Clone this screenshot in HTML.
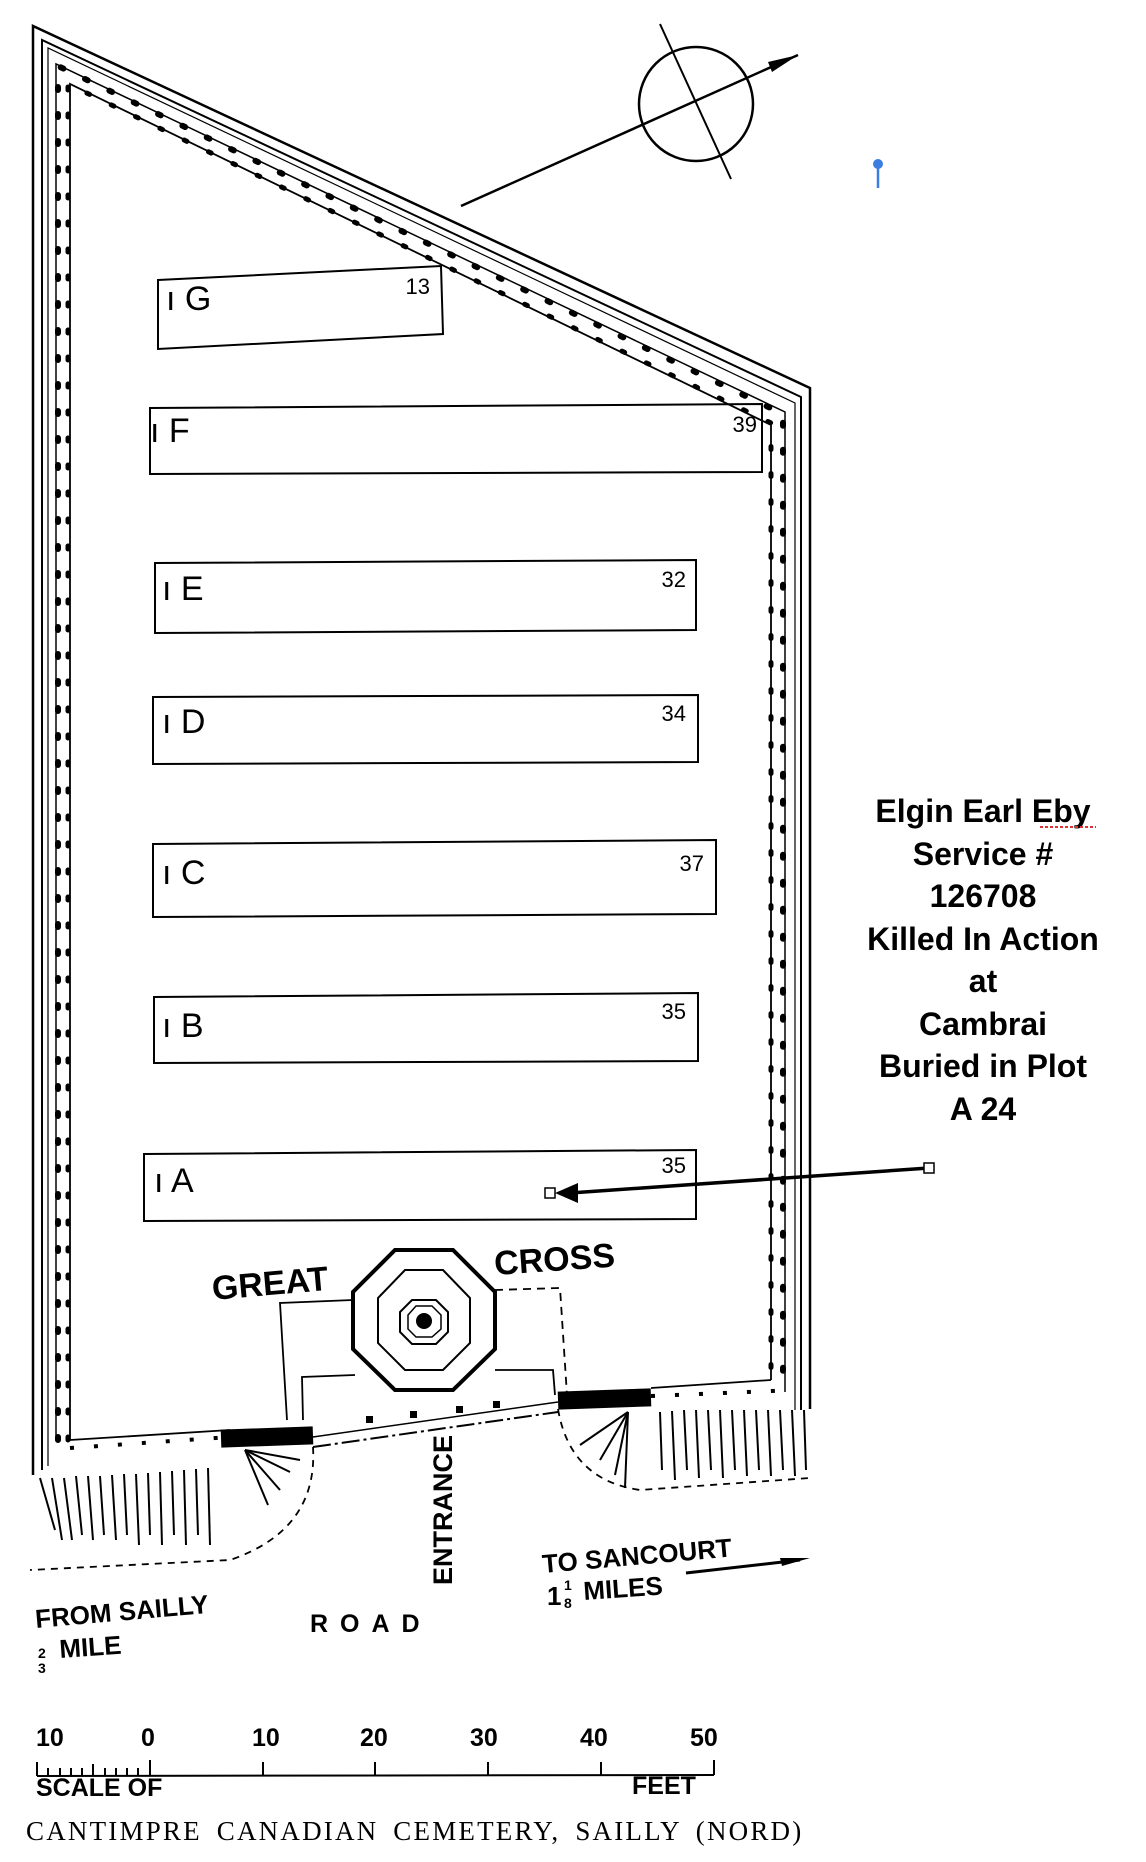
<!DOCTYPE html>
<html><head><meta charset="utf-8"><style>
html,body{margin:0;padding:0;background:#fff}
svg{display:block}
.s{font-family:"Liberation Sans",sans-serif;font-weight:bold}
</style></head><body>
<svg width="1146" height="1862" viewBox="0 0 1146 1862" xmlns="http://www.w3.org/2000/svg">
<g fill="none" stroke="#000">
<path d="M33 1475 L33 26 L810 388 L810 1409" stroke-width="2.5"/>
<path d="M42 1470 L42 40 L801 397 L801 1410" stroke-width="2"/>
<path d="M48 1466 L48 48 L795 403 L795 1410" stroke-width="1.2"/>
<path d="M56 1440 L56 64 L785 412 L785 1392" stroke-width="1.5"/>
<path d="M58 1440 L58 66 L783 414 L783 1392" stroke-width="6" stroke-dasharray="3 24" stroke-linecap="round"/>
<path d="M70 1440 L70 84 L771 425 L771 1380" stroke-width="1.8"/>
<path d="M68 1440 L68 84 L771 423 L771 1380" stroke-width="5" stroke-dasharray="3 24" stroke-linecap="round"/>
<path d="M70 1440 L230 1430" stroke-width="1.8"/>
<path d="M70 1448 L230 1437" stroke-width="4" stroke-dasharray="4 20"/>
<path d="M651 1388 L771 1380" stroke-width="1.8"/>
<path d="M651 1396 L795 1390" stroke-width="4" stroke-dasharray="4 20"/>
<g stroke-width="2">
<polygon points="158,280 441,266 443,334 158,349"/>
<polygon points="150,408 762,404 762,472 150,474"/>
<polygon points="155,563 696,560 696,630 155,633"/>
<polygon points="153,697 698,695 698,762 153,764"/>
<polygon points="153,844 716,840 716,914 153,917"/>
<polygon points="154,997 698,993 698,1061 154,1063"/>
<polygon points="144,1154 696,1150 696,1219 144,1221"/>
</g>
<circle cx="696" cy="104" r="57" stroke-width="2.5"/>
<line x1="461" y1="206" x2="798" y2="55" stroke-width="2.5"/>
<line x1="660" y1="24" x2="731" y2="179" stroke-width="2"/>
</g>
<polygon points="798,55 768,62 772,72" fill="#000"/>
<line x1="878" y1="165" x2="878" y2="188" stroke="#3b7de0" stroke-width="2.5"/>
<circle cx="878" cy="164" r="5" fill="#3b7de0"/>
<g font-size="34" font-family="Liberation Sans,sans-serif">
<text x="166" y="310">ı G</text>
<text x="150" y="442">ı F</text>
<text x="162" y="600">ı E</text>
<text x="162" y="733">ı D</text>
<text x="162" y="884">ı C</text>
<text x="162" y="1037">ı B</text>
<text x="154" y="1192">ı A</text>
</g>
<g font-family="Liberation Sans,sans-serif" font-size="22" text-anchor="end">
<text x="430" y="294">13</text>
<text x="757" y="432">39</text>
<text x="686" y="587">32</text>
<text x="686" y="721">34</text>
<text x="704" y="871">37</text>
<text x="686" y="1019">35</text>
<text x="686" y="1173">35</text>
</g>
<g class="s" font-size="32" text-anchor="middle">
<text x="983" y="822">Elgin Earl Eby</text>
<text x="983" y="865">Service #</text>
<text x="983" y="907">126708</text>
<text x="983" y="950">Killed In Action</text>
<text x="983" y="992">at</text>
<text x="983" y="1035">Cambrai</text>
<text x="983" y="1077">Buried in Plot</text>
<text x="983" y="1120">A 24</text>
</g>
<line x1="1040" y1="827" x2="1096" y2="827" stroke="#d33" stroke-width="2" stroke-dasharray="3 2"/>
<line x1="929" y1="1168" x2="570" y2="1193" stroke="#000" stroke-width="3.5"/>
<polygon points="555,1193 578,1183 578,1203" fill="#000"/>
<rect x="545" y="1188" width="10" height="10" fill="#fff" stroke="#000" stroke-width="1.5"/>
<rect x="924" y="1163" width="10" height="10" fill="#fff" stroke="#000" stroke-width="1.5"/>
<g fill="none" stroke="#000">
<polygon points="395,1250 453,1250 495,1292 495,1349 453,1390 395,1390 353,1349 353,1292" stroke-width="4"/>
<polygon points="405,1270 443,1270 470,1298 470,1343 443,1370 405,1370 378,1343 378,1298" stroke-width="2"/>
<polygon points="412,1300 436,1300 448,1312 448,1332 436,1344 412,1344 400,1332 400,1312" stroke-width="2"/>
<polygon points="416,1306 432,1306 441,1315 441,1329 432,1337 416,1337 408,1329 408,1315" stroke-width="1.5"/>
<path d="M353 1300 L280 1303 L287 1420" stroke-width="1.8"/>
<path d="M355 1375 L302 1377 L303 1420" stroke-width="1.8"/>
<path d="M495 1290 L560 1288 L567 1395" stroke-width="1.8" stroke-dasharray="8 6"/>
<path d="M495 1370 L553 1370 L555 1395" stroke-width="1.8"/>
<line x1="313" y1="1447" x2="558" y2="1412" stroke-width="2" stroke-dasharray="18 4 3 4"/>
<line x1="313" y1="1437" x2="558" y2="1402" stroke-width="1.5"/>
<path d="M313 1447 Q318 1530 230 1560 L30 1570" stroke-width="1.8" stroke-dasharray="7 6"/>
<path d="M558 1409 Q570 1480 640 1490 L810 1478" stroke-width="1.8" stroke-dasharray="7 6"/>
</g>
<circle cx="424" cy="1321" r="8" fill="#000"/>
<rect x="221" y="1428" width="92" height="18" fill="#000" transform="rotate(-2 267 1437)"/>
<rect x="558" y="1390" width="93" height="18" fill="#000" transform="rotate(-2 604 1399)"/>
<g fill="#000"><rect x="366" y="1416" width="7" height="7"/><rect x="410" y="1411" width="7" height="7"/><rect x="456" y="1406" width="7" height="7"/><rect x="493" y="1401" width="7" height="7"/></g>
<g stroke="#000" stroke-width="2">
<line x1="40" y1="1478" x2="55" y2="1530"/><line x1="52" y1="1478" x2="62" y2="1540"/><line x1="64" y1="1478" x2="72" y2="1540"/><line x1="76" y1="1476" x2="82" y2="1535"/><line x1="88" y1="1476" x2="93" y2="1540"/><line x1="100" y1="1476" x2="104" y2="1535"/><line x1="112" y1="1475" x2="116" y2="1540"/><line x1="124" y1="1474" x2="127" y2="1535"/><line x1="136" y1="1474" x2="139" y2="1545"/><line x1="148" y1="1473" x2="150" y2="1535"/><line x1="160" y1="1472" x2="162" y2="1545"/><line x1="172" y1="1471" x2="174" y2="1535"/><line x1="184" y1="1470" x2="186" y2="1545"/><line x1="196" y1="1469" x2="198" y2="1535"/><line x1="208" y1="1468" x2="210" y2="1545"/>
<line x1="245" y1="1450" x2="290" y2="1472"/><line x1="245" y1="1450" x2="280" y2="1490"/><line x1="245" y1="1450" x2="268" y2="1505"/><line x1="245" y1="1450" x2="300" y2="1460"/>
<line x1="628" y1="1412" x2="600" y2="1460"/><line x1="628" y1="1412" x2="615" y2="1475"/><line x1="628" y1="1412" x2="580" y2="1445"/><line x1="628" y1="1412" x2="625" y2="1488"/>
<line x1="660" y1="1412" x2="662" y2="1470"/><line x1="672" y1="1411" x2="675" y2="1480"/><line x1="684" y1="1410" x2="687" y2="1470"/><line x1="696" y1="1410" x2="699" y2="1478"/><line x1="708" y1="1410" x2="711" y2="1470"/><line x1="720" y1="1410" x2="723" y2="1478"/><line x1="732" y1="1410" x2="735" y2="1470"/><line x1="744" y1="1410" x2="747" y2="1476"/><line x1="756" y1="1410" x2="759" y2="1470"/><line x1="768" y1="1410" x2="771" y2="1476"/><line x1="780" y1="1410" x2="783" y2="1470"/><line x1="792" y1="1410" x2="795" y2="1476"/><line x1="804" y1="1410" x2="806" y2="1470"/>
</g>
<g font-family="Liberation Sans,sans-serif" font-weight="bold" fill="#000">
<text x="213" y="1300" font-size="34" transform="rotate(-5 213 1300)">GREAT</text>
<text x="495" y="1275" font-size="34" transform="rotate(-4 495 1275)">CROSS</text>
<text x="0" y="0" font-size="27" transform="translate(452 1585) rotate(-90)">ENTRANCE</text>
<text x="310" y="1632" font-size="25" letter-spacing="12">ROAD</text>
<text x="36" y="1628" font-size="26" transform="rotate(-5 36 1628)">FROM SAILLY</text>
<text x="60" y="1658" font-size="26" transform="rotate(-4 60 1658)">MILE</text>
<text x="38" y="1658" font-size="14">2</text>
<text x="38" y="1673" font-size="14">3</text>
<text x="543" y="1573" font-size="26" transform="rotate(-5 543 1573)">TO SANCOURT</text>
<text x="584" y="1600" font-size="26" transform="rotate(-4 584 1600)">MILES</text>
<text x="547" y="1605" font-size="26">1</text>
<text x="564" y="1590" font-size="14">1</text>
<text x="564" y="1608" font-size="14">8</text>
</g>
<line x1="686" y1="1573" x2="800" y2="1560" stroke="#000" stroke-width="3"/>
<polygon points="810,1558 780,1558 782,1566" fill="#000"/>
<g font-family="Liberation Sans,sans-serif" font-weight="bold" font-size="25" fill="#000">
<text x="36" y="1746">10</text><text x="141" y="1746">0</text><text x="252" y="1746">10</text><text x="360" y="1746">20</text><text x="470" y="1746">30</text><text x="580" y="1746">40</text><text x="690" y="1746">50</text>
<text x="36" y="1796">SCALE OF</text><text x="632" y="1794">FEET</text>
</g>
<g stroke="#000" stroke-width="2">
<line x1="37" y1="1776" x2="714" y2="1775"/>
<line x1="37" y1="1776" x2="37" y2="1762"/><line x1="150" y1="1776" x2="150" y2="1760"/><line x1="263" y1="1776" x2="263" y2="1762"/><line x1="375" y1="1776" x2="375" y2="1762"/><line x1="488" y1="1776" x2="488" y2="1762"/><line x1="601" y1="1776" x2="601" y2="1762"/><line x1="714" y1="1775" x2="714" y2="1760"/>
<line x1="48" y1="1776" x2="48" y2="1768"/><line x1="60" y1="1776" x2="60" y2="1768"/><line x1="71" y1="1776" x2="71" y2="1768"/><line x1="82" y1="1776" x2="82" y2="1768"/><line x1="93" y1="1776" x2="93" y2="1764"/><line x1="105" y1="1776" x2="105" y2="1768"/><line x1="116" y1="1776" x2="116" y2="1768"/><line x1="127" y1="1776" x2="127" y2="1768"/><line x1="138" y1="1776" x2="138" y2="1768"/>
</g>
<text x="26" y="1840" font-family="Liberation Serif,serif" font-size="27" letter-spacing="2.2" word-spacing="6" fill="#000">CANTIMPRE CANADIAN CEMETERY, SAILLY (NORD)</text>
</svg>
</body></html>
